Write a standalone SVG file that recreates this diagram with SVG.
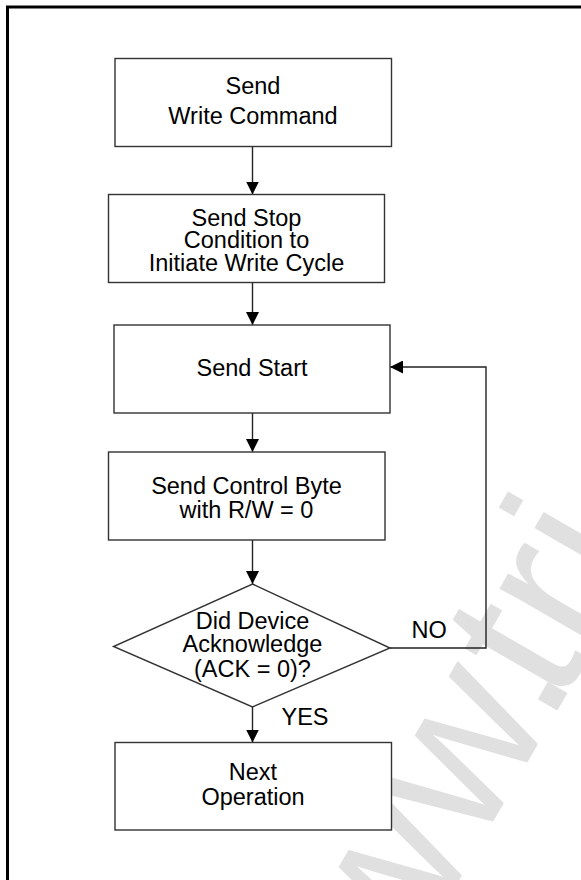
<svg xmlns="http://www.w3.org/2000/svg" width="581" height="880" viewBox="0 0 581 880">
  <style>
    .box { fill: #ffffff; stroke: #333333; stroke-width: 1.4; }
    .lbl { font-family: "Liberation Sans", Arial, sans-serif; font-size: 23.5px; fill: #000000; text-anchor: middle; }
    .side { font-family: "Liberation Sans", Arial, sans-serif; font-size: 23.5px; fill: #000000; }
    .conn { fill: none; stroke: #222222; stroke-width: 1.4; }
    .wm { font-family: "Liberation Sans", Arial, sans-serif; font-size: 210px; fill: #e0e0e0; }
  </style>
  <defs>
    <marker id="arrow" viewBox="0 0 13 13" refX="13" refY="6.5" markerWidth="13" markerHeight="13" markerUnits="userSpaceOnUse" orient="auto">
      <path d="M0,0 L13,6.5 L0,13 z" fill="#000000"/>
    </marker>
    <clipPath id="frameclip"><rect x="9" y="8.5" width="572" height="872"/></clipPath>
  </defs>
  <rect x="0" y="0" width="581" height="880" fill="#ffffff"/>

  <g id="watermark" clip-path="url(#frameclip)">
    <text class="wm" transform="translate(326,1111) rotate(-60)">www.<tspan dx="-35">tri</tspan></text>
  </g>

  <path id="frame" d="M7.5,880 V7 H581" fill="none" stroke="#000000" stroke-width="3"/>

  <g id="connectors">
    <path class="conn" d="M252.5,146.5 V194.5" marker-end="url(#arrow)"/>
    <path class="conn" d="M252.5,282.5 V325" marker-end="url(#arrow)"/>
    <path class="conn" d="M252.5,413 V452" marker-end="url(#arrow)"/>
    <path class="conn" d="M252.5,540 V584" marker-end="url(#arrow)"/>
    <path class="conn" d="M252.5,707 V742.5" marker-end="url(#arrow)"/>
    <path class="conn" d="M390,648 H486 V367 H390" marker-end="url(#arrow)"/>
    <text class="side" x="411.5" y="638">NO</text>
    <text class="side" x="281.5" y="725">YES</text>
  </g>

  <g id="send-write-command">
    <rect class="box" x="115" y="58.5" width="276.5" height="88"/>
    <text class="lbl" x="253" y="94">Send</text>
    <text class="lbl" x="253" y="123.5">Write Command</text>
  </g>

  <g id="send-stop">
    <rect class="box" x="108.5" y="194.5" width="276" height="88"/>
    <text class="lbl" x="246.5" y="225.5">Send Stop</text>
    <text class="lbl" x="246.5" y="248">Condition to</text>
    <text class="lbl" x="246.5" y="270.5">Initiate Write Cycle</text>
  </g>

  <g id="send-start">
    <rect class="box" x="114" y="325" width="276" height="88"/>
    <text class="lbl" x="252" y="376">Send Start</text>
  </g>

  <g id="send-control-byte">
    <rect class="box" x="108.5" y="452" width="276.5" height="88"/>
    <text class="lbl" x="246.5" y="493.5">Send Control Byte</text>
    <text class="lbl" x="246.5" y="518">with R/W = 0</text>
  </g>

  <g id="ack-decision">
    <polygon class="box" points="252.5,584 390,648 252.5,707 113.5,646.5"/>
    <text class="lbl" x="252.5" y="628.5">Did Device</text>
    <text class="lbl" x="252.5" y="652">Acknowledge</text>
    <text class="lbl" x="252.5" y="677">(ACK = 0)?</text>
  </g>

  <g id="next-operation">
    <rect class="box" x="115" y="742.5" width="276.5" height="87.5"/>
    <text class="lbl" x="253" y="780">Next</text>
    <text class="lbl" x="253" y="805">Operation</text>
  </g>
</svg>
